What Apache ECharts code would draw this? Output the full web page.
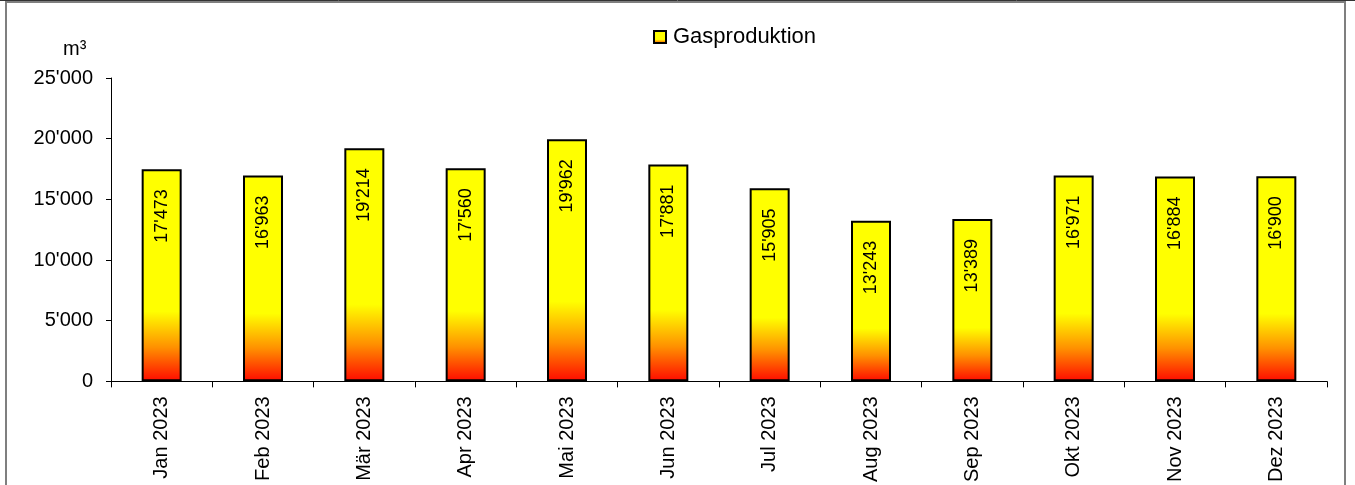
<!DOCTYPE html>
<html>
<head>
<meta charset="utf-8">
<script src="https://cdn.jsdelivr.net/npm/echarts@6/dist/echarts.min.js"></script>
<style>
  html, body { margin: 0; padding: 0; background: #fff; }
  #chart { width: 1355px; height: 485px; }
</style>
</head>
<body>
<div id="chart"></div>
<script>
// Monthly gas production 2023 (m³)
const months = ['Jan 2023', 'Feb 2023', 'Mär 2023', 'Apr 2023', 'Mai 2023', 'Jun 2023',
                'Jul 2023', 'Aug 2023', 'Sep 2023', 'Okt 2023', 'Nov 2023', 'Dez 2023'];
const gasProduction = [17473, 16963, 19214, 17560, 19962, 17881, 15905, 13243, 13389, 16971, 16884, 16900];
const seriesName = 'Gasproduktion';
const unitLabel = 'm³';

const FONT = '"Liberation Sans", Arial, sans-serif';

// Thousands separator with apostrophe, e.g. 25'000
function fmt(v) {
  return String(Math.round(v)).replace(/\B(?=(\d{3})+(?!\d))/g, "'");
}

const chart = echarts.init(document.getElementById('chart'), null, { renderer: 'canvas' });

chart.setOption({
  animation: false,
  backgroundColor: '#ffffff',
  textStyle: { fontFamily: FONT, color: '#000' },
  title: {
    text: unitLabel,
    left: 58,
    top: 34,
    textStyle: { fontFamily: FONT, fontSize: 20, fontWeight: 'normal', color: '#000' }
  },
  legend: {
    data: [seriesName],
    left: 648,
    top: 21,
    itemWidth: 12,
    itemHeight: 12,
    icon: 'rect',
    textStyle: { fontFamily: FONT, fontSize: 22, color: '#000', padding: [0, 0, 0, 2] }
  },
  graphic: [
    {
      type: 'rect',
      shape: { x: 6, y: 2, width: 1339, height: 500 },
      style: { fill: 'none', stroke: '#7f7f7f', lineWidth: 2 },
      silent: true
    },
    {
      type: 'line',
      shape: { x1: 0, y1: 0.5, x2: 1355, y2: 0.5 },
      style: { stroke: '#333', lineWidth: 1 },
      silent: true
    }
  ],
  grid: { left: 111, right: 28, top: 78, bottom: 102, containLabel: false },
  xAxis: {
    type: 'category',
    data: months,
    boundaryGap: true,
    axisLine: { show: true, lineStyle: { color: '#000', width: 1 } },
    axisTick: { show: true, length: 6, lineStyle: { color: '#000' } },
    axisLabel: {
      rotate: 90,
      margin: 15,
      fontFamily: FONT,
      fontSize: 20,
      color: '#000'
    },
    splitLine: { show: false }
  },
  yAxis: {
    type: 'value',
    min: 0,
    max: 25000,
    interval: 5000,
    axisLine: { show: true, lineStyle: { color: '#000', width: 1 } },
    axisTick: { show: true, length: 5, lineStyle: { color: '#000' } },
    axisLabel: {
      margin: 18,
      fontFamily: FONT,
      fontSize: 20,
      color: '#000',
      formatter: fmt
    },
    splitLine: { show: false }
  },
  series: [{
    name: seriesName,
    type: 'bar',
    data: gasProduction,
    barWidth: 40,
    itemStyle: {
      borderColor: '#000',
      borderWidth: 2,
      color: new echarts.graphic.LinearGradient(0, 0, 0, 1, [
        { offset: 0, color: '#ffff00' },
        { offset: 0.67, color: '#ffff00' },
        { offset: 0.84, color: '#ff9000' },
        { offset: 1, color: '#ff0a00' }
      ])
    },
    label: {
      show: true,
      position: 'insideTop',
      distance: 20,
      rotate: 90,
      align: 'right',
      verticalAlign: 'middle',
      fontFamily: FONT,
      fontSize: 18,
      color: '#000',
      formatter: p => fmt(p.value)
    }
  }]
});
</script>
</body>
</html>
